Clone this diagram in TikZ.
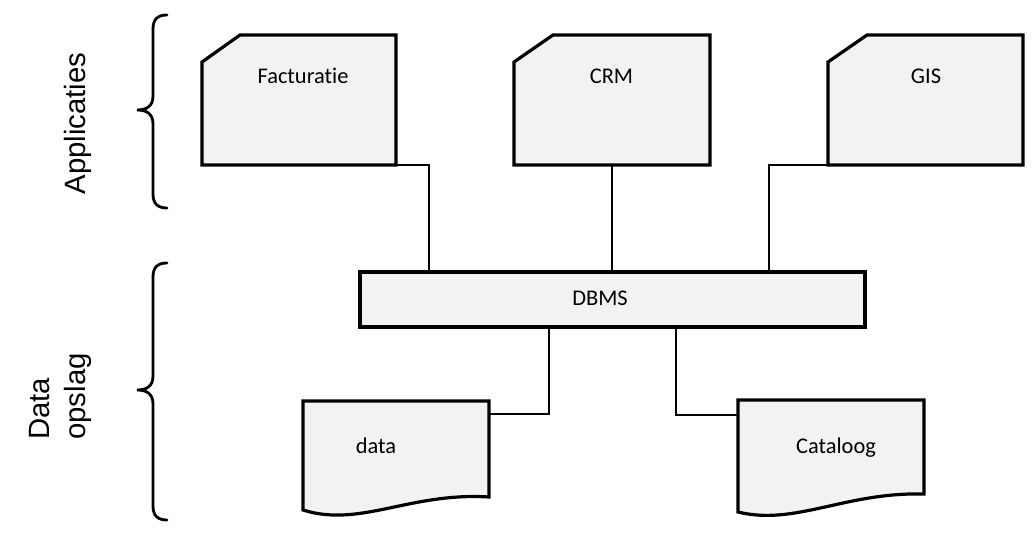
\documentclass[tikz,border=0pt]{standalone}
\usepackage{fontspec}
\setmainfont[Ligatures={NoCommon}]{Carlito}
\newfontfamily\arialfont{Liberation Sans}
\usetikzlibrary{calc}
\definecolor{boxfill}{HTML}{F2F2F2}
\begin{document}
\begin{tikzpicture}[x=0.75pt,y=-0.75pt,
  slot/.style 2 args={rectangle, inner sep=0pt, outer sep=0pt, minimum width=#1, minimum height=#2},
  boxline/.style={draw=black, line width=2.4pt, fill=boxfill, line join=miter},
  conn/.style={draw=black, line width=2.1pt},
  bracel/.style={draw=black, line width=2.1pt, line cap=round},
  boxtext/.style={font=\fontsize{16.8}{20}\selectfont, inner sep=0pt, anchor=base},
  sidelbl/.style={font=\arialfont\fontsize{22}{27}\selectfont, inner sep=0pt}
]
\useasboundingbox (0,0) rectangle (1036,534);

% placeholders for shapes
\node[slot={145.5pt}{97.5pt}] (fact) at (299,100) {};
\node[slot={147pt}{97.5pt}] (crm) at (612,100) {};
\node[slot={146.25pt}{97.5pt}] (gis) at (925.5,100) {};
\node[slot={378.75pt}{41.25pt}] (dbms) at (612.5,299.5) {};
\node[slot={139.5pt}{81.75pt}] (data) at (396,455.5) {};
\node[slot={139.5pt}{84pt}] (cat) at (831,456) {};

% connectors
\draw[conn] (fact.south east) -| ($(dbms.north west)+(69,0)$);
\draw[conn] (crm.south) -- (crm.south |- dbms.north);
\draw[conn] (gis.south west) -| ($(dbms.north west)+(409,0)$);
\draw[conn] ($(data.north east)+(0,13)$) -| ($(dbms.south west)+(189,0)$);
\draw[conn] ($(cat.north west)+(0,15)$) -| ($(dbms.south west)+(316,0)$);

% application shapes
\filldraw[boxline] ($(fact.north west)+(0,27)$) -- ($(fact.north west)+(38,0)$) -- (fact.north east) -- (fact.south east) -- (fact.south west) -- cycle;
\filldraw[boxline] ($(crm.north west)+(0,27)$) -- ($(crm.north west)+(39,0)$) -- (crm.north east) -- (crm.south east) -- (crm.south west) -- cycle;
\filldraw[boxline] ($(gis.north west)+(0,27)$) -- ($(gis.north west)+(39,0)$) -- (gis.north east) -- (gis.south east) -- (gis.south west) -- cycle;

% DBMS
\filldraw[boxline] (dbms.north west) rectangle (dbms.south east);

% document shapes
\filldraw[boxline] (data.north west) -- (data.north east) -- ($(data.south east)+(0,-13)$)
  .. controls ($(data.south east)+(-79,-18)$) and ($(data.south west)+(57,18)$) .. (data.south west) -- cycle;
\filldraw[boxline] (cat.north west) -- (cat.north east) -- ($(cat.south east)+(0,-18)$)
  .. controls ($(cat.south east)+(-79,-20)$) and ($(cat.south west)+(57,14)$) .. (cat.south west) -- cycle;

% texts
\node[boxtext] (factlbl) at ($(fact.north)+(4,49)$) {Facturatie};
\node[boxtext] (crmlbl) at ($(crm.north)+(-0.5,49)$) {CRM};
\node[boxtext] (gislbl) at ($(gis.north)+(0.5,49)$) {GIS};
\node[boxtext] (dbmslbl) at ($(dbms.center)+(-12.5,6.5)$) {DBMS};
\node[boxtext] (datalbl) at ($(data.north)+(-20,53)$) {data};
\node[boxtext] (catlbl) at ($(cat.north)+(5,54)$) {Cataloog};

% braces
\draw[bracel] (167,15) .. controls (158,15) and (153,19) .. (153,29) -- (153,96)
  .. controls (153,106) and (147,110) .. (137,110)
  .. controls (147,110) and (153,114) .. (153,124) -- (153,194)
  .. controls (153,204) and (158,208) .. (167,208);
\draw[bracel] (167,263) .. controls (158,263) and (153,267) .. (153,277) -- (153,376)
  .. controls (153,386) and (147,390) .. (137,390)
  .. controls (147,390) and (153,394) .. (153,404) -- (153,506)
  .. controls (153,516) and (158,520) .. (167,520);

% side labels
\node[sidelbl, rotate=90, anchor=base] (appl) at (85,123.5) {Applicaties};
\node[sidelbl, rotate=90, anchor=north west, align=left] (opslag) at (29,440) {Data\\opslag};
\end{tikzpicture}
\end{document}
